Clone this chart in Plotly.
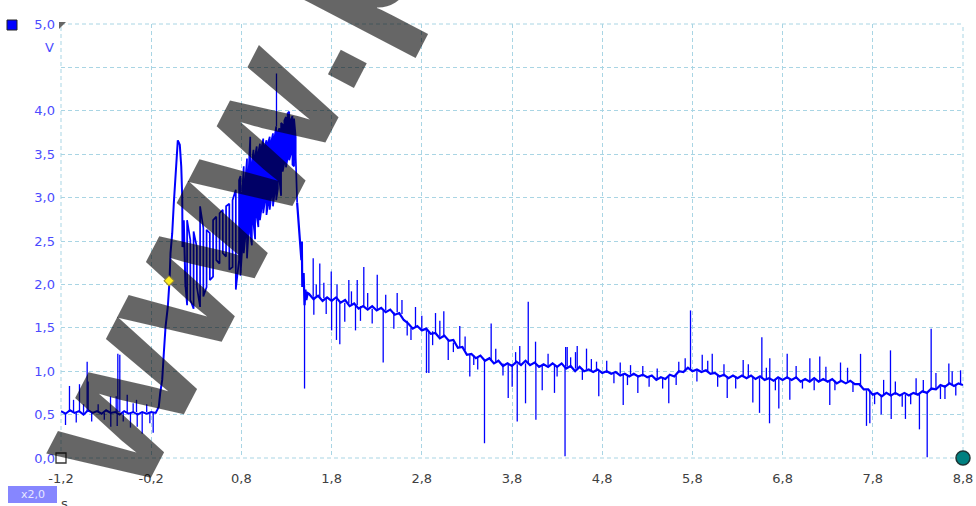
import plotly.graph_objects as go

# ---------------- channel A samples (time in s, voltage in V) ----------------
# pre-trigger baseline
pre_t = [-1.20, -1.15, -1.10, -1.05, -1.00, -0.95, -0.90, -0.85, -0.80, -0.75, -0.70,
         -0.65, -0.60, -0.55, -0.50, -0.45, -0.40, -0.35, -0.30, -0.25, -0.20, -0.15]
pre_v = [0.54, 0.51, 0.55, 0.52, 0.54, 0.50, 0.55, 0.52, 0.54, 0.51, 0.55,
         0.52, 0.53, 0.50, 0.54, 0.51, 0.53, 0.50, 0.53, 0.51, 0.53, 0.52]

# rising edge and first peak
rise_t = [-0.13, -0.116, -0.100, -0.078, -0.060, -0.041, -0.016, 0.003, 0.014, 0.033,
          0.051, 0.069, 0.080, 0.095, 0.117, 0.133, 0.144, 0.147, 0.161, 0.172, 0.180]
rise_v = [0.56, 0.59, 0.75, 0.90, 1.21, 1.51, 1.74, 2.04, 2.36, 2.59,
          2.94, 3.24, 3.51, 3.66, 3.61, 3.36, 3.01, 2.43, 2.74, 2.28, 1.97]

# oscillating burst: min / max of each sample column
burst_t = [0.198, 0.234, 0.270, 0.306, 0.342, 0.378, 0.414, 0.450, 0.486, 0.522,
           0.558, 0.594, 0.630, 0.666, 0.702, 0.738, 0.774,
           0.790, 0.808, 0.826, 0.844, 0.862, 0.880, 0.898, 0.916, 0.934, 0.952,
           0.970, 0.988, 1.006, 1.024, 1.042, 1.060, 1.078, 1.096, 1.114, 1.132,
           1.150, 1.168, 1.186, 1.204, 1.222, 1.240, 1.258, 1.276, 1.294, 1.312,
           1.330, 1.348, 1.366, 1.384, 1.402]
burst_lo = [1.76, 1.82, 1.72, 1.97, 1.74, 1.86, 1.97, 2.05, 2.09, 2.28,
            2.24, 2.36, 2.32, 2.17, 2.20, 1.94, 2.28,
            2.10, 2.40, 2.36, 2.55, 2.30, 2.62, 2.59, 2.45, 2.70, 2.52,
            2.78, 2.66, 2.74, 2.88, 2.82, 2.95, 2.80, 2.92, 2.86, 3.02,
            2.90, 3.05, 2.97, 3.10, 3.20, 3.02, 3.30, 3.40, 3.35, 3.45,
            3.43, 3.50, 3.38, 3.36, 3.47]
burst_hi = [2.74, 2.51, 2.61, 2.43, 2.90, 2.65, 2.63, 2.59, 2.74, 2.78,
            2.82, 2.86, 2.90, 2.93, 2.97, 3.09, 3.20,
            3.25, 3.05, 3.36, 3.20, 3.45, 3.30, 3.70, 3.40, 3.55, 3.48,
            3.59, 3.52, 3.62, 3.58, 3.68, 3.60, 3.66, 3.63, 3.70, 3.65,
            3.74, 3.70, 3.82, 3.76, 3.80, 3.86, 3.84, 3.89, 3.93, 3.97,
            3.99, 3.90, 3.94, 3.91, 3.70]

# collapse after the burst
fall_t = [1.418, 1.440, 1.455, 1.465, 1.470, 1.475, 1.490, 1.500, 1.510, 1.520, 1.535]
fall_v = [2.94, 2.66, 2.40, 2.28, 2.49, 1.97, 2.13, 1.76, 1.94, 1.82, 1.90]

# slow decay and tail
tail_t = [1.55, 1.60, 1.65, 1.70, 1.75, 1.80, 1.85, 1.90, 1.95, 2.00, 2.05, 2.10, 2.15,
          2.20, 2.25, 2.30, 2.35, 2.40, 2.45, 2.50, 2.55, 2.60, 2.65, 2.70, 2.75, 2.80,
          2.85, 2.90, 2.95, 3.00, 3.05, 3.10, 3.15, 3.20, 3.25, 3.30, 3.35, 3.40, 3.45,
          3.50, 3.55, 3.60, 3.65, 3.70, 3.75, 3.80, 3.85, 3.90, 3.95, 4.00, 4.05, 4.10,
          4.15, 4.20, 4.25, 4.30, 4.35, 4.40, 4.45, 4.50, 4.55, 4.60, 4.65, 4.70, 4.75,
          4.80, 4.85, 4.90, 4.95, 5.00, 5.05, 5.10, 5.15, 5.20, 5.25, 5.30, 5.35, 5.40,
          5.45, 5.50, 5.55, 5.60, 5.65, 5.70, 5.75, 5.80, 5.85, 5.90, 5.95, 6.00, 6.05,
          6.10, 6.15, 6.20, 6.25, 6.30, 6.35, 6.40, 6.45, 6.50, 6.55, 6.60, 6.65, 6.70,
          6.75, 6.80, 6.85, 6.90, 6.95, 7.00, 7.05, 7.10, 7.15, 7.20, 7.25, 7.30, 7.35,
          7.40, 7.45, 7.50, 7.55, 7.60, 7.65, 7.70, 7.75, 7.80, 7.85, 7.90, 7.95, 8.00,
          8.05, 8.10, 8.15, 8.20, 8.25, 8.30, 8.35, 8.40, 8.45, 8.50, 8.55, 8.60, 8.65,
          8.70, 8.75, 8.80]
tail_v = [1.89, 1.83, 1.87, 1.81, 1.85, 1.81, 1.85, 1.79, 1.82, 1.75, 1.78, 1.72, 1.75,
          1.71, 1.75, 1.70, 1.73, 1.68, 1.71, 1.65, 1.67, 1.59, 1.55, 1.49, 1.52, 1.47,
          1.49, 1.43, 1.44, 1.38, 1.41, 1.35, 1.36, 1.27, 1.28, 1.19, 1.20, 1.15, 1.18,
          1.12, 1.15, 1.09, 1.12, 1.06, 1.09, 1.06, 1.11, 1.07, 1.12, 1.07, 1.10, 1.05,
          1.08, 1.05, 1.09, 1.05, 1.09, 1.03, 1.06, 1.00, 1.05, 1.00, 1.02, 0.99, 1.02,
          0.98, 1.00, 0.97, 0.99, 0.95, 0.97, 0.94, 0.97, 0.94, 0.96, 0.93, 0.95, 0.90,
          0.93, 0.91, 0.96, 0.94, 1.00, 0.99, 1.04, 1.00, 1.02, 0.99, 1.01, 0.97, 0.98,
          0.94, 0.96, 0.92, 0.95, 0.92, 0.95, 0.92, 0.95, 0.91, 0.94, 0.90, 0.92, 0.89,
          0.93, 0.90, 0.93, 0.90, 0.93, 0.88, 0.91, 0.88, 0.92, 0.88, 0.91, 0.88, 0.91,
          0.86, 0.89, 0.86, 0.89, 0.85, 0.85, 0.79, 0.79, 0.73, 0.75, 0.71, 0.75, 0.72,
          0.75, 0.72, 0.75, 0.72, 0.75, 0.73, 0.77, 0.75, 0.80, 0.79, 0.84, 0.82, 0.86,
          0.83, 0.86, 0.84]

# isolated glitches: time, band level, tip
spike_t = [-1.150, -1.106, -1.061, -1.031, -0.995, -0.950, -0.910, -0.899, -0.860, -0.788,
           -0.720, -0.651, -0.648, -0.588, -0.577, -0.570, -0.548, -0.510, -0.466, -0.430,
           -0.400, -0.363, -0.355, -0.300, -0.250, -0.215, -0.178,
           1.189, 1.472, 1.500,
           1.596, 1.603, 1.630, 1.669, 1.714, 1.740, 1.796, 1.800, 1.854, 1.860, 1.891,
           1.946, 1.991, 2.020, 2.065, 2.084, 2.120, 2.157, 2.200, 2.250, 2.306, 2.372,
           2.400, 2.490, 2.527, 2.580, 2.638, 2.680, 2.730, 2.800, 2.852, 2.878, 2.920,
           2.952, 3.000, 3.044, 3.093, 3.150, 3.221, 3.280, 3.332, 3.376, 3.420, 3.495,
           3.569, 3.620, 3.700, 3.758, 3.802, 3.840, 3.858, 3.886, 3.950, 3.980, 4.061,
           4.065, 4.135, 4.200, 4.271, 4.300, 4.388, 4.395, 4.412, 4.450, 4.504, 4.523,
           4.580, 4.626, 4.680, 4.737, 4.762, 4.850, 4.930, 5.000, 5.033, 5.080, 5.114,
           5.195, 5.250, 5.320, 5.410, 5.470, 5.538, 5.620, 5.649, 5.720, 5.779, 5.850,
           5.909, 5.970, 6.020, 6.080, 6.150, 6.186, 6.280, 6.363, 6.420, 6.470, 6.544,
           6.570, 6.620, 6.655, 6.658, 6.720, 6.758, 6.851, 6.880, 6.950, 7.020, 7.102,
           7.150, 7.212, 7.280, 7.323, 7.380, 7.442, 7.520, 7.580, 7.664, 7.730, 7.767,
           7.820, 7.893, 7.920, 7.996, 8.004, 8.050, 8.126, 8.162, 8.220, 8.280, 8.317,
           8.360, 8.403, 8.447, 8.500, 8.550, 8.600, 8.643, 8.680, 8.720, 8.773]
spike_base = [0.52, 0.53, 0.53, 0.52, 0.53, 0.52, 0.53, 0.53, 0.52, 0.53,
              0.52, 0.53, 0.52, 0.53, 0.52, 0.53, 0.53, 0.52, 0.53, 0.52,
              0.53, 0.53, 0.52, 0.52, 0.53, 0.52, 0.52,
              3.82, 2.28, 1.90,
              1.86, 1.86, 1.85, 1.85, 1.84, 1.84, 1.83, 1.83, 1.82, 1.82, 1.80,
              1.79, 1.78, 1.77, 1.76, 1.76, 1.75, 1.74, 1.73, 1.72, 1.71, 1.70,
              1.70, 1.68, 1.68, 1.66, 1.58, 1.50, 1.50, 1.49, 1.47, 1.46, 1.46,
              1.44, 1.40, 1.39, 1.37, 1.33, 1.28, 1.24, 1.20, 1.18, 1.16, 1.13,
              1.12, 1.11, 1.09, 1.08, 1.08, 1.08, 1.08, 1.08, 1.09, 1.09, 1.08,
              1.08, 1.07, 1.07, 1.06, 1.06, 1.05, 1.05, 1.05, 1.04, 1.03, 1.03,
              1.03, 1.02, 1.01, 1.00, 1.00, 0.98, 0.97, 0.97, 0.97, 0.96, 0.96,
              0.95, 0.94, 0.94, 0.92, 0.92, 0.94, 0.95, 0.98, 1.00, 1.02, 1.01,
              1.01, 0.99, 0.97, 0.96, 0.94, 0.94, 0.94, 0.93, 0.93, 0.93, 0.92,
              0.92, 0.92, 0.91, 0.91, 0.91, 0.91, 0.91, 0.91, 0.91, 0.90, 0.90,
              0.90, 0.89, 0.89, 0.89, 0.89, 0.88, 0.88, 0.87, 0.83, 0.78, 0.77,
              0.75, 0.73, 0.73, 0.73, 0.73, 0.73, 0.73, 0.73, 0.74, 0.74, 0.75,
              0.75, 0.76, 0.78, 0.80, 0.82, 0.84, 0.85, 0.85, 0.85, 0.84]
spike_tip = [0.38, 0.83, 0.67, 0.41, 0.85, 0.62, 1.11, 0.88, 0.42, 0.62,
             0.44, 0.71, 0.36, 0.71, 0.37, 1.20, 1.19, 0.42, 0.73, 0.35,
             0.63, 0.67, 0.36, 0.28, 0.62, 0.40, 0.29,
             4.43, 2.49, 0.80,
             2.30, 1.65, 2.00, 2.24, 2.02, 1.66, 2.15, 1.47, 1.36, 2.00, 1.31,
             1.57, 2.05, 1.92, 1.47, 2.05, 1.58, 2.20, 1.90, 1.55, 2.11, 1.10,
             1.88, 1.49, 1.90, 1.82, 1.41, 1.36, 1.74, 1.64, 0.98, 0.98, 1.30,
             1.67, 1.58, 1.69, 1.13, 1.22, 1.52, 1.40, 0.94, 1.07, 1.02, 0.17,
             1.55, 1.26, 0.95, 0.69, 0.82, 1.22, 0.42, 1.29, 0.63, 1.80, 1.34,
             0.44, 0.78, 1.20, 0.75, 0.94, 0.02, 1.28, 1.28, 1.16, 1.22, 1.29,
             0.90, 1.26, 1.14, 1.11, 0.71, 1.12, 0.86, 1.10, 0.61, 0.84, 1.07,
             0.75, 1.06, 0.82, 1.03, 0.80, 0.63, 0.84, 1.11, 1.15, 1.70, 0.88,
             1.19, 1.12, 1.20, 0.82, 1.08, 0.69, 0.80, 1.13, 1.08, 0.64, 0.52,
             1.39, 1.04, 0.40, 1.15, 0.78, 0.57, 1.20, 0.67, 1.06, 0.80, 1.15,
             0.78, 1.17, 1.05, 0.61, 0.78, 1.10, 1.04, 0.76, 1.20, 0.37, 0.40,
             0.62, 0.50, 0.90, 1.24, 0.45, 0.88, 0.59, 0.45, 0.62, 0.92, 0.33,
             0.90, 0.01, 1.49, 0.98, 0.68, 0.68, 1.09, 1.00, 0.72, 1.01]

# trigger point
trig_t = 0.0
trig_v = 2.04

x_ticks = [-1.2, -0.2, 0.8, 1.8, 2.8, 3.8, 4.8, 5.8, 6.8, 7.8, 8.8]
x_labels = ["-1,2", "-0,2", "0,8", "1,8", "2,8", "3,8", "4,8", "5,8", "6,8", "7,8", "8,8"]
y_ticks = [0.0, 0.5, 1.0, 1.5, 2.0, 2.5, 3.0, 3.5, 4.0, 4.5, 5.0]
y_labels = ["0,0", "0,5", "1,0", "1,5", "2,0", "2,5", "3,0", "3,5", "4,0", "", "5,0"]

# ---------------- assemble the trace ----------------
# head: baseline + rising edge; burst: min/max columns; tail: collapse + decay
head_t, head_v = list(pre_t) + list(rise_t), list(pre_v) + list(rise_v)

osc_t, osc_v = [rise_t[-1]], [rise_v[-1]]
for i, (t, lo, hi) in enumerate(zip(burst_t, burst_lo, burst_hi)):
    pair = (lo, hi) if i % 2 == 0 else (hi, lo)
    osc_t += [t, t]
    osc_v += list(pair)
osc_t.append(fall_t[0])
osc_v.append(fall_v[0])

end_t, end_v = list(fall_t) + list(tail_t), list(fall_v) + list(tail_v)

glitch_x, glitch_y = [], []
for t, b, tip in zip(spike_t, spike_base, spike_tip):
    glitch_x += [t, t, None]
    glitch_y += [b, tip, None]

BLUE = "#0000ff"
GRID = "#a9d5e4"
FONT = "DejaVu Sans"

fig = go.Figure()
for xs, ys, w in [(head_t, head_v, 2.0), (osc_t, osc_v, 1.7), (end_t, end_v, 2.2)]:
    fig.add_trace(go.Scatter(x=xs, y=ys, mode="lines",
                             line=dict(color=BLUE, width=w), hoverinfo="skip"))
fig.add_trace(go.Scatter(x=glitch_x, y=glitch_y, mode="lines",
                         line=dict(color=BLUE, width=1.3), hoverinfo="skip"))
fig.add_trace(go.Scatter(x=[x_ticks[0]], y=[y_ticks[0]], mode="markers", cliponaxis=False,
                         marker=dict(symbol="square", size=10, color="white",
                                     line=dict(color="#333333", width=1.3))))
fig.add_trace(go.Scatter(x=[x_ticks[-1]], y=[y_ticks[0]], mode="markers", cliponaxis=False,
                         marker=dict(symbol="circle", size=14, color="#008080",
                                     line=dict(color="#1c3636", width=1.5))))

L, R, T, B = 61, 13, 24, 48
W, H = 976, 506
PW, PH = W - L - R, H - T - B


def px(x):
    return (x - L) / PW


def py(y):
    return (H - B - y) / PH


shapes = []
# dashed frame around the grid
for x0, y0, x1, y1 in [(0, 0, 1, 0), (0, 1, 1, 1), (0, 0, 0, 1), (1, 0, 1, 1)]:
    shapes.append(dict(type="line", xref="paper", yref="paper", x0=x0, y0=y0, x1=x1, y1=y1,
                       line=dict(color=GRID, width=1, dash="4px,3px"), layer="below"))
# channel colour swatch
shapes.append(dict(type="rect", xref="paper", yref="paper", x0=px(7), x1=px(17),
                   y0=py(30), y1=py(20), fillcolor=BLUE, line=dict(color="#222222", width=1)))
# zoom factor badge
shapes.append(dict(type="rect", xref="paper", yref="paper", x0=px(8), x1=px(57),
                   y0=py(503), y1=py(486), fillcolor="#8686ff", line=dict(width=0)))
# scroll marker in the top-left corner
shapes.append(dict(type="path", xref="paper", yref="paper",
                   path=f"M {px(59)},{py(29)} L {px(66)},{py(22)} L {px(59)},{py(22)} Z",
                   fillcolor="#666666", line=dict(width=0)))

annotations = [
    dict(text="V", xref="paper", yref="paper", x=px(49), y=py(47), showarrow=False,
         xanchor="center", yanchor="middle", font=dict(family=FONT, size=13, color="#4b4bff")),
    dict(text="s", xref="paper", yref="paper", x=px(64), y=py(503), showarrow=False,
         xanchor="center", yanchor="middle", font=dict(family=FONT, size=13, color="#404040")),
    dict(text="x2,0", xref="paper", yref="paper", x=px(32.5), y=py(494.5), showarrow=False,
         xanchor="center", yanchor="middle", font=dict(family=FONT, size=11, color="#e6e6ff")),
    dict(text="www.p", xref="paper", yref="paper", x=px(223), y=py(192), showarrow=False,
         xanchor="center", yanchor="middle", textangle=-62.5,
         font=dict(family="Liberation Sans", size=197, weight="bold",
                   color="rgba(0,0,0,0.6)")),
    # trigger marker: a small square turned 45 degrees, kept above the overlay text
    dict(text="", x=trig_t, y=trig_v, xref="x", yref="y", showarrow=False,
         width=6, height=6, textangle=45, bgcolor="#ffee22",
         bordercolor="#9a8a30", borderwidth=1, borderpad=0),
]

fig.update_layout(
    width=W, height=H, autosize=False,
    margin=dict(l=L, r=R, t=T, b=B, pad=0),
    paper_bgcolor="white", plot_bgcolor="white",
    showlegend=False,
    shapes=shapes, annotations=annotations,
    xaxis=dict(range=[x_ticks[0], x_ticks[-1]], tickmode="array", tickvals=x_ticks,
               ticktext=x_labels, showgrid=True, gridcolor=GRID, gridwidth=1,
               griddash="4px,3px", zeroline=False, showline=False, ticks="",
               automargin=False, ticklabelstandoff=11,
               tickfont=dict(family=FONT, size=13, color="#404040")),
    yaxis=dict(range=[y_ticks[0], y_ticks[-1]], tickmode="array", tickvals=y_ticks,
               ticktext=y_labels, showgrid=True, gridcolor=GRID, gridwidth=1,
               griddash="4px,3px", zeroline=False, showline=False, ticks="",
               automargin=False, ticklabelstandoff=5,
               tickfont=dict(family=FONT, size=13, color="#4b4bff")),
)

fig.write_html("out.html")
